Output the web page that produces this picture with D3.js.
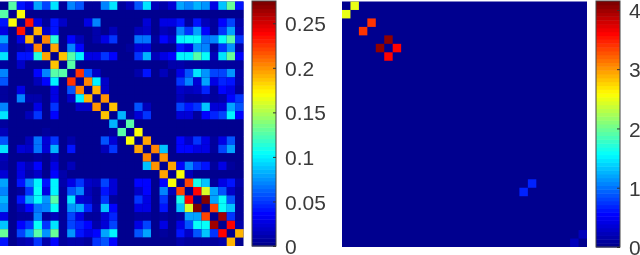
<!DOCTYPE html>
<html>
<head>
<meta charset="utf-8">
<style>
  html, body { margin: 0; padding: 0; background: #fff; overflow: hidden; }
  svg { display: block; filter: blur(0.4px); }
  .cbar text { font-family: "Liberation Sans", Arial, sans-serif; font-size: 21px; fill: #3a3a3a; }
</style>
<script src="https://cdn.jsdelivr.net/npm/d3@7"></script>
</head>
<body>
<script>
// upper triangle of the left matrix, one row per index, first entry is the cell right of the diagonal
var r0 = [.125,.04,.03,.08,.055,.095,.005,.07,.06,.005,.005,.07,.095,.005,.015,.06,.095,.015,.012,.025,.08,.07,.085,.075,.03,.09,.13,.04]
var r1 = [.17,0,0,0,0,0,0,0,0,0,0,0,0,0,0,0,0,0,0,0,0,0,0,0,0,0,0]
var r2 = [.235,.03,.005,.04,.02,0,0,.03,.07,0,0,0,0,0,.025,0,.03,.03,.04,.005,.04,.015,.005,.035,.055,.01]
var r3 = [.19,.02,.04,0,0,0,0,.012,0,.015,0,0,.015,.02,0,.015,.01,.07,.05,.08,.035,.005,.05,.08,.015]
var r4 = [.205,.115,0,.035,.015,0,.01,.03,.05,0,0,.065,.065,.005,.035,.02,.1,.105,.105,.065,.07,.105,.125,.05]
var r5 = [.195,0,.07,.035,0,0,0,0,0,.005,.025,.025,0,0,0,.04,.03,.075,.07,.005,.05,.075,.01]
var r6 = [.185,.125,.1,.03,.03,.05,.035,0,0,.05,.085,.015,.03,.035,.1,.1,.125,.105,.015,.095,.13,.035]
var r7 = [.125,0,0,0,0,0,0,0,0,0,0,0,.012,.01,.005,.005,.005,.005,.005,.005,.008]
var r8 = [.225,.06,.02,0,0,0,0,.012,.04,0,.015,0,.03,.06,.095,.075,.055,.055,.075,.01]
var r9 = [.205,.1,.02,0,0,0,0,0,0,0,0,.05,.07,.025,.08,.03,.045,.04,.012]
var r10 = [.19,.02,0,0,0,0,0,0,0,0,.02,.015,.02,.045,.005,.035,.03,.005]
var r11 = [.2,0,0,0,0,0,0,0,0,.015,.007,.007,.012,.005,.012,.035,.05]
var r12 = [.185,0,0,.06,.015,0,0,0,.055,.04,.05,.09,.025,.025,.08,.06]
var r13 = [.085,.005,.025,.05,0,0,0,.025,.025,.005,.035,.045,.055,.1,.035]
var r14 = [.125,0,0,0,0,0,0,0,0,0,0,0,0,0]
var r15 = [.17,0,0,0,0,0,0,0,0,0,0,0,0]
var r16 = [.195,0,0,0,.035,.02,.05,.03,.005,.03,.06,0]
var r17 = [.205,.09,0,.035,.035,.03,.03,.008,.055,.08,0]
var r18 = [.2,0,0,0,0,0,0,0,0,0]
var r19 = [.195,.035,.07,.05,.04,.005,.03,.005,0]
var r20 = [.17,.015,0,0,0,0,0,0]
var r21 = [.22,.11,.09,.005,.03,.04,.01]
var r22 = [.24,.16,.08,.06,.02,.005]
var r23 = [.275,.08,.105,.06,.005]
var r24 = [.22,.105,.09,.005]
var r25 = [.265,.05,.005]
var r26 = [.24,.01]
var r27 = [.19]
var upperLeft = [r0,r1,r2,r3,r4,r5,r6,r7,r8,r9,r10,r11,r12,r13,r14,r15,r16,r17,r18,r19,r20,r21,r22,r23,r24,r25,r26,r27]

// the few non zero cells of the right matrix: row, col, value
var rightRows = [0,2,4,5,21,27]
var rightCols = [1,3,5,6,22,28]
var rightVals = [2.5,3.4,4.05,3.6,.65,.2]

var leftTicks = [0,.05,.1,.15,.2,.25]
var leftLabels = ["0","0.05","0.1","0.15","0.2","0.25"]
var rightTicks = [0,1,2,3,4]
var leftMax = 0.275
var rightMax = 4.15
var n = 29

var svg = d3.select("body").append("svg").attr("width", 640).attr("height", 255)

// 64 step jet colormap
var jetLine = d3.scaleLinear()
  .domain([0, .125, .375, .625, .875, 1])
  .range(["#00008f", "#0000ff", "#00ffff", "#ffff00", "#ff0000", "#800000"])
var jet64 = d3.range(64).map(function(i) { return jetLine(i / 63) })

function heatmap(cells, box, vmax) {
  var color = d3.scaleQuantize().domain([0, vmax]).range(jet64)
  var x = d3.scaleBand().domain(d3.range(n)).range([box.x0, box.x1])
  var y = d3.scaleBand().domain(d3.range(n)).range([box.y0, box.y1])
  var g = svg.append("g")
  g.append("rect")
    .attr("x", box.x0).attr("y", box.y0)
    .attr("width", box.x1 - box.x0).attr("height", box.y1 - box.y0)
    .attr("fill", color(0))
  g.selectAll("rect.c").data(cells).enter().append("rect")
    .attr("class", "c")
    .attr("x", function(d) { return x(d.col) })
    .attr("y", function(d) { return y(d.row) })
    .attr("width", x.bandwidth())
    .attr("height", y.bandwidth())
    .attr("fill", function(d) { return color(d.v) })
}

function colorbar(box, vmax, ticks, labels) {
  var y = d3.scaleLinear().domain([0, vmax]).range([box.y1, box.y0])
  var g = svg.append("g").attr("class", "cbar")
  g.selectAll("rect").data(d3.range(64)).enter().append("rect")
    .attr("x", box.x0)
    .attr("width", box.x1 - box.x0)
    .attr("y", function(i) { return y((i + 1) / 64 * vmax) })
    .attr("height", (box.y1 - box.y0) / 64 + .5)
    .attr("fill", function(i) { return jet64[i] })
  g.append("rect")
    .attr("x", box.x0).attr("y", box.y0)
    .attr("width", box.x1 - box.x0).attr("height", box.y1 - box.y0)
    .attr("fill", "none").attr("stroke", "#444").attr("stroke-width", 1)
  var axis = d3.axisRight(y).tickValues(ticks).tickSize(-3).tickPadding(9)
    .tickFormat(function(d, i) { return labels[i] })
  var a = g.append("g").attr("transform", "translate(" + box.x1 + ",0)").call(axis)
  a.select(".domain").remove()
  a.selectAll("line").attr("stroke", "#333")
  a.selectAll("text").attr("dy", "0.36em").attr("font-family", null).attr("font-size", null)
}

var leftCells = []
upperLeft.forEach(function(row, i) {
  row.forEach(function(v, k) {
    var j = i + k + 1
    leftCells.push({row: i, col: j, v: v})
    leftCells.push({row: j, col: i, v: v})
  })
})

var rightCells = []
rightRows.forEach(function(r, i) {
  rightCells.push({row: r, col: rightCols[i], v: rightVals[i]})
  rightCells.push({row: rightCols[i], col: r, v: rightVals[i]})
})

heatmap(leftCells, {x0: 0, x1: 243.5, y0: 1.5, y1: 246}, leftMax)
heatmap(rightCells, {x0: 342, x1: 587, y0: 1.5, y1: 247}, rightMax)
colorbar({x0: 252, x1: 276, y0: 1, y1: 246}, leftMax, leftTicks, leftLabels)
colorbar({x0: 596, x1: 620, y0: 1, y1: 247}, rightMax, rightTicks, rightTicks.map(String))
</script>
</body>
</html>
